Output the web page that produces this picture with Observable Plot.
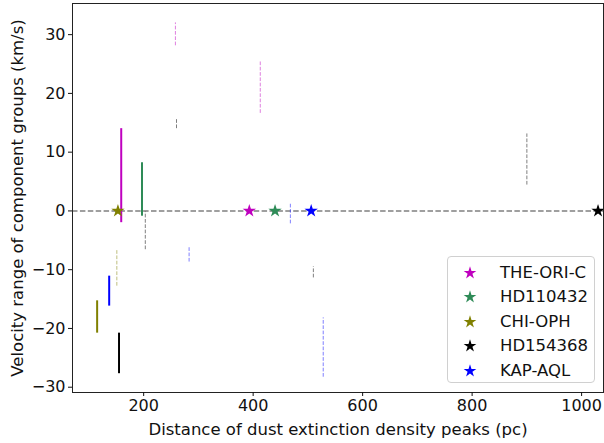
<!DOCTYPE html>
<html>
<head>
<meta charset="utf-8">
<script src="https://cdn.jsdelivr.net/npm/d3@7"></script>
<script src="https://cdn.jsdelivr.net/npm/@observablehq/plot@0.6"></script>
<style>
  html, body { margin: 0; padding: 0; background: #fff; }
  #wrap { position: relative; width: 604px; height: 443px; font-family: "DejaVu Sans", sans-serif; }
  #legend { position: absolute; left: 447px; top: 256px; width: 148px; height: 127px;
    border: 1px solid #d0d0d0; border-radius: 4px; background: rgba(255,255,255,0.8); box-sizing: border-box; }
  .row { position: absolute; left: 0; height: 20px; display: flex; align-items: center; }
  .row svg { position: absolute; left: 14px; }
  .row span { position: absolute; left: 52px; font-size: 16.5px; color: #111; white-space: nowrap; line-height: 20px; }
  svg text[aria-label] {}
</style>
</head>
<body>
<div id="wrap"><div id="legend"></div></div>
<script>
// Sight lines (stars at velocity 0)
const stars = ["THE-ORI-C", "HD110432", "CHI-OPH", "HD154368", "KAP-AQL"];
const starColors = ["#bf00bf", "#2e8b57", "#808000", "#000000", "#0000ff"];
const starDist = [393, 440, 153, 1030, 506];

// Solid segments: velocity ranges of component groups
const solidStar = ["THE-ORI-C", "HD110432", "CHI-OPH", "KAP-AQL", "HD154368"];
const solidDist = [159, 197, 115, 137, 155];
const solidVmin = [-2.0, -0.9, -20.8, -16.2, -27.7];
const solidVmax = [14.0, 8.2, -15.3, -11.1, -20.8];

// Dashed segments
const dashStar = ["THE-ORI-C", "THE-ORI-C", "HD154368", "HD154368", "CHI-OPH", "KAP-AQL", "KAP-AQL", "HD154368", "KAP-AQL", "HD154368"];
const dashDist = [258, 413, 260, 203, 151, 283, 468, 510, 528, 900];
const dashVmin = [28.1, 16.6, 14.0, -6.6, -12.8, -8.7, -2.2, -11.4, -28.3, 4.4];
const dashVmax = [32.0, 25.4, 15.7, -0.2, -6.6, -6.2, 1.4, -9.5, -18.2, 13.1];

const xTicks = [200, 400, 600, 800, 1000];
const yTicks = [-30, -20, -10, 0, 10, 20, 30];

const colorOf = name => starColors[stars.indexOf(name)];
const solid = solidStar.map((s, i) => ({s, x: solidDist[i], y1: solidVmin[i], y2: solidVmax[i]}));
const dashed = dashStar.map((s, i) => ({s, x: dashDist[i], y1: dashVmin[i], y2: dashVmax[i]}));
const starData = stars.map((s, i) => ({s, x: starDist[i], y: 0}));
const fmt = d => (d < 0 ? "\u2212" : "") + Math.abs(d);

const chart = Plot.plot({
  width: 604,
  height: 443,
  marginLeft: 72,
  marginRight: 1,
  marginTop: 3,
  marginBottom: 51,
  style: {fontFamily: "DejaVu Sans, sans-serif", fontSize: "16px", color: "#111", background: "#fff"},
  x: {domain: [70, 1040]},
  y: {domain: [-30.9, 35.3]},
  marks: [
    Plot.ruleY([0], {stroke: "#808080", strokeWidth: 1.5, strokeDasharray: "5.5,2.4"}),
    Plot.ruleX(dashed, {x: "x", y1: "y1", y2: "y2", stroke: d => colorOf(d.s), strokeOpacity: 0.5, strokeWidth: 1, strokeDasharray: "3.7,1.6"}),
    Plot.ruleX(solid, {x: "x", y1: "y1", y2: "y2", stroke: d => colorOf(d.s), strokeWidth: 2}),
    Plot.dot(starData, {x: "x", y: "y", symbol: "star", r: 4.2, fill: d => colorOf(d.s), stroke: "none"}),
    Plot.frame({stroke: "#222", strokeWidth: 1}),
    Plot.axisX({ticks: xTicks, tickFormat: fmt, tickSize: 4, tickPadding: 3, label: null}),
    Plot.axisY({ticks: yTicks, tickFormat: fmt, tickSize: 4, tickPadding: 3, label: null}),
    Plot.axisX({ticks: [], label: "Distance of dust extinction density peaks (pc)", labelAnchor: "center", labelOffset: 42, labelArrow: "none", fontSize: 16.5}),
    Plot.axisY({ticks: [], label: "Velocity range of component groups (km/s)", labelAnchor: "center", labelOffset: 61, labelArrow: "none", fontSize: 16.5})
  ]
});
document.getElementById("wrap").prepend(chart);

// Legend
const legend = document.getElementById("legend");
const starPath = d3.symbol(d3.symbolStar, 50)();
stars.forEach((s, i) => {
  const row = document.createElement("div");
  row.className = "row";
  row.style.top = (6 + i * 24.4) + "px";
  row.innerHTML = `<svg width="16" height="16" viewBox="-8 -8 16 16"><path d="${starPath}" fill="${starColors[i]}"/></svg><span>${s}</span>`;
  legend.appendChild(row);
});
</script>
</body>
</html>
